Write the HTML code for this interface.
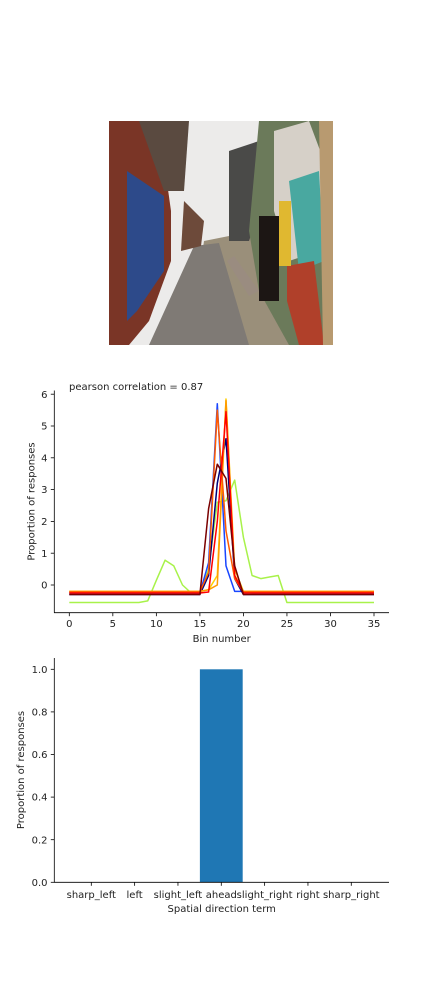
<!DOCTYPE html>
<html><head><meta charset="utf-8">
<style>
body{margin:0;background:#fff;width:432px;height:1008px;overflow:hidden}
svg{display:block}
text{font-family:"DejaVu Sans","Liberation Sans",sans-serif;font-size:10px;fill:#222}
</style></head>
<body>
<svg id="root" width="432" height="1008">
  <g transform="translate(109,121)">
    <rect width="224" height="224" fill="#ecebea"/>
    <polygon points="160,0 224,0 224,224 80,224 95,120 120,115 140,90" fill="#9a8f7a"/>
    <polygon points="40,224 85,125 110,122 140,224" fill="#7f7a75"/>
    <polygon points="0,0 45,0 55,40 62,90 62,140 40,200 20,224 0,224" fill="#7a3526"/>
    <polygon points="18,50 55,75 55,150 28,190 18,200" fill="#2d4a8a"/>
    <polygon points="30,0 80,0 75,70 55,70" fill="#5a4a40"/>
    <polygon points="75,80 95,100 92,125 72,130" fill="#6d4a3a"/>
    <polygon points="120,30 150,20 160,60 140,120 120,120" fill="#4a4a48"/>
    <polygon points="150,0 224,0 224,224 180,224 150,170 140,110" fill="#6b7a5a"/>
    <polygon points="165,10 200,0 215,40 210,130 180,140 165,90" fill="#d6d0c8"/>
    <polygon points="180,60 210,50 215,140 190,150" fill="#49a8a0"/>
    <polygon points="178,145 205,140 215,224 190,224 178,180" fill="#b0402a"/>
    <polygon points="150,95 170,95 170,180 150,180" fill="#1c1614"/>
    <polygon points="170,80 182,80 182,145 170,145" fill="#e0b830"/>
    <polygon points="125,135 150,170 140,175 118,140" fill="#9a8c80"/>
    <polygon points="210,0 224,0 224,224 214,224" fill="#b89a70"/>
  </g>
  <g id="lineChart"></g>
  <g id="barChart"></g>
</svg>
<script>
const bins = Array.from({length:36},(_,i)=>i);
const xTicks = [0,5,10,15,20,25,30,35];
const yTicks = [0,1,2,3,4,5,6];
const seriesColors = ["#a8f24a","#1846ff","#00007a","#ffd000","#ff9a00","#ff5a00","#ff0000","#7a0000"];
function flat(v){return Array(36).fill(v);}
function withPeak(base, peak){const a=flat(base);for(const k in peak)a[k]=peak[k];return a;}
const greenVals = withPeak(-0.55,{9:-0.5,10:0.15,11:0.78,12:0.6,13:0.0,14:-0.25,15:-0.25,16:0.5,17:2.6,18:2.65,19:3.3,20:1.5,21:0.3,22:0.2,23:0.25,24:0.3});
const blueVals = withPeak(-0.25,{16:0.7,17:5.7,18:0.6,19:-0.2,20:-0.2});
const navyVals = withPeak(-0.3,{16:0.3,17:3.2,18:4.6,19:0.2});
const yellowVals = withPeak(-0.2,{16:-0.15,17:0.3,18:5.85,19:0.5});
const orangeVals = withPeak(-0.2,{16:-0.15,17:0.0,18:5.8,19:0.3});
const orangeRedVals = withPeak(-0.22,{16:0.4,17:5.5,18:1.7,19:0.2});
const redVals = withPeak(-0.25,{16:-0.22,17:2.0,18:5.45,19:0.3});
const darkRedVals = withPeak(-0.3,{16:2.4,17:3.8,18:3.35,19:0.6});
const allSeries = [greenVals,blueVals,navyVals,yellowVals,orangeVals,orangeRedVals,redVals,darkRedVals];
const seriesNames = ["green","blue","navy","yellow","orange","orange-red","red","dark-red"];

const barCats = ["sharp_left","left","slight_left","ahead","slight_right","right","sharp_right"];
const barVals = [0,0,0,1,0,0,0];
const barTicks = [0,0.2,0.4,0.6,0.8,1.0];

const NS="http://www.w3.org/2000/svg";
function mk(parent,tag,attrs,txt){const e=document.createElementNS(NS,tag);for(const k in attrs)e.setAttribute(k,attrs[k]);if(txt!==undefined)e.textContent=txt;parent.appendChild(e);return e;}

// line chart
const L=document.getElementById('lineChart');
const lx=b=>69.3+(374-69.3)*b/35;
const ly=v=>585-31.8*v;
let e;
for(let s=0;s<allSeries.length;s++){
  const pts=bins.map((b,i)=>lx(b).toFixed(1)+","+ly(allSeries[s][i]).toFixed(1)).join(" ");
  e=mk(L,'polyline',{points:pts,fill:'none',stroke:seriesColors[s],'stroke-width':1.5,'stroke-linejoin':'round'});
  
  
}
e=mk(L,'line',{x1:54.3,y1:390.5,x2:54.3,y2:612.7,stroke:'#000','stroke-width':0.8});


e=mk(L,'line',{x1:54,y1:612.7,x2:389,y2:612.7,stroke:'#000','stroke-width':0.8});


for(const t of xTicks){
  mk(L,'line',{x1:lx(t),x2:lx(t),y1:612.7,y2:616.2,stroke:'#000','stroke-width':0.8});
  e=mk(L,'text',{x:lx(t),y:627,'text-anchor':'middle'},t);
  
  
}
for(const t of yTicks){
  mk(L,'line',{x1:50.8,x2:54.3,y1:ly(t),y2:ly(t),stroke:'#000','stroke-width':0.8});
  e=mk(L,'text',{x:47.5,y:ly(t)+3.6,'text-anchor':'end'},t);
  
  
}
e=mk(L,'text',{x:221.7,y:642,'text-anchor':'middle'},'Bin number');


e=mk(L,'text',{x:0,y:0,'text-anchor':'middle',transform:'translate(34.5,501.5) rotate(-90)'},'Proportion of responses');


e=mk(L,'text',{x:69,y:390},'pearson correlation = 0.87');



// bar chart
const B=document.getElementById('barChart');
const bx=i=>91.3+43.33*i;
const by=v=>882.3-213*v;
for(let i=0;i<barCats.length;i++){
  e=mk(B,'rect',{x:bx(i)-21.4,y:by(barVals[i]),width:42.8,height:882.3-by(barVals[i]),fill:'#1f77b4'});
  
  
  mk(B,'line',{x1:bx(i),x2:bx(i),y1:882.3,y2:885.8,stroke:'#000','stroke-width':0.8});
  e=mk(B,'text',{x:bx(i),y:898,'text-anchor':'middle'},barCats[i]);
  
  
}
e=mk(B,'line',{x1:54.3,y1:658,x2:54.3,y2:882.3,stroke:'#000','stroke-width':0.8});


e=mk(B,'line',{x1:54,y1:882.3,x2:389,y2:882.3,stroke:'#000','stroke-width':0.8});


for(const t of barTicks){
  mk(B,'line',{x1:50.8,x2:54.3,y1:by(t),y2:by(t),stroke:'#000','stroke-width':0.8});
  e=mk(B,'text',{x:47.5,y:by(t)+3.6,'text-anchor':'end'},t.toFixed(1));
  
  
}
e=mk(B,'text',{x:221.7,y:912,'text-anchor':'middle'},'Spatial direction term');


e=mk(B,'text',{x:0,y:0,'text-anchor':'middle',transform:'translate(24,770) rotate(-90)'},'Proportion of responses');


</script>
</body></html>
